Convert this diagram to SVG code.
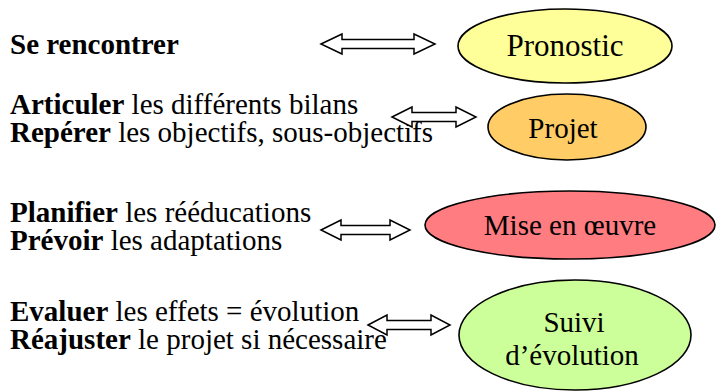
<svg xmlns="http://www.w3.org/2000/svg" width="717" height="392" viewBox="0 0 717 392">
<style>
  .t { font-family: "Liberation Serif", "Times New Roman", serif; font-size: 29px; fill: #000; }
  .b { font-weight: bold; }
  .node { stroke: #000; stroke-width: 1.6; }
  .lbl { font-family: "Liberation Serif", "Times New Roman", serif; font-size: 29px; fill: #000; text-anchor: middle; }
  .arr { fill: #fff; stroke: #000; stroke-width: 1.5; stroke-linejoin: miter; }
</style>
<rect width="717" height="392" fill="#fff"/>

<g id="left-texts">
  <text class="t b" x="10" y="54">Se rencontrer</text>
  <text class="t" x="10" y="114"><tspan class="b">Articuler</tspan> les différents bilans</text>
  <text class="t" x="10" y="142"><tspan class="b">Repérer</tspan> les objectifs, sous-objectifs</text>
  <text class="t" x="10" y="222"><tspan class="b">Planifier</tspan> les rééducations</text>
  <text class="t" x="10" y="250"><tspan class="b">Prévoir</tspan> les adaptations</text>
  <text class="t" x="10" y="321"><tspan class="b">Evaluer</tspan> les effets = évolution</text>
  <text class="t" x="10" y="349"><tspan class="b">Réajuster</tspan> le projet si nécessaire</text>
</g>

<g id="connectors">
  <path class="arr" d="M321,44 L342,34 L342,39.5 L414,39.5 L414,34 L435,44 L414,54 L414,48.5 L342,48.5 L342,54 Z"/>
  <path class="arr" d="M392,117 L412,107 L412,112.5 L456,112.5 L456,107 L476,117 L456,127 L456,121.5 L412,121.5 L412,127 Z"/>
  <path class="arr" d="M321,230 L341,220 L341,225.5 L390,225.5 L390,220 L410,230 L390,240 L390,234.5 L341,234.5 L341,240 Z"/>
  <path class="arr" d="M368,325 L387,315 L387,320.5 L431,320.5 L431,315 L450,325 L431,335 L431,329.5 L387,329.5 L387,335 Z"/>
</g>

<g id="pronostic">
  <ellipse class="node" cx="565" cy="46" rx="107" ry="37" fill="#FFFF99"/>
  <text class="lbl" x="565" y="56" style="font-size:31px">Pronostic</text>
</g>

<g id="projet">
  <ellipse class="node" cx="567" cy="127" rx="79" ry="33" fill="#FFCC66"/>
  <text class="lbl" x="563" y="138">Projet</text>
</g>

<g id="mise-en-oeuvre">
  <ellipse class="node" cx="570" cy="225" rx="145" ry="34" fill="#FF7C80"/>
  <text class="lbl" x="570" y="235">Mise en œuvre</text>
</g>

<g id="suivi">
  <ellipse class="node" cx="575" cy="335" rx="116" ry="55" fill="#CCFF99"/>
  <text class="lbl" x="574" y="332">Suivi</text>
  <text class="lbl" x="572" y="365">d’évolution</text>
</g>
</svg>
